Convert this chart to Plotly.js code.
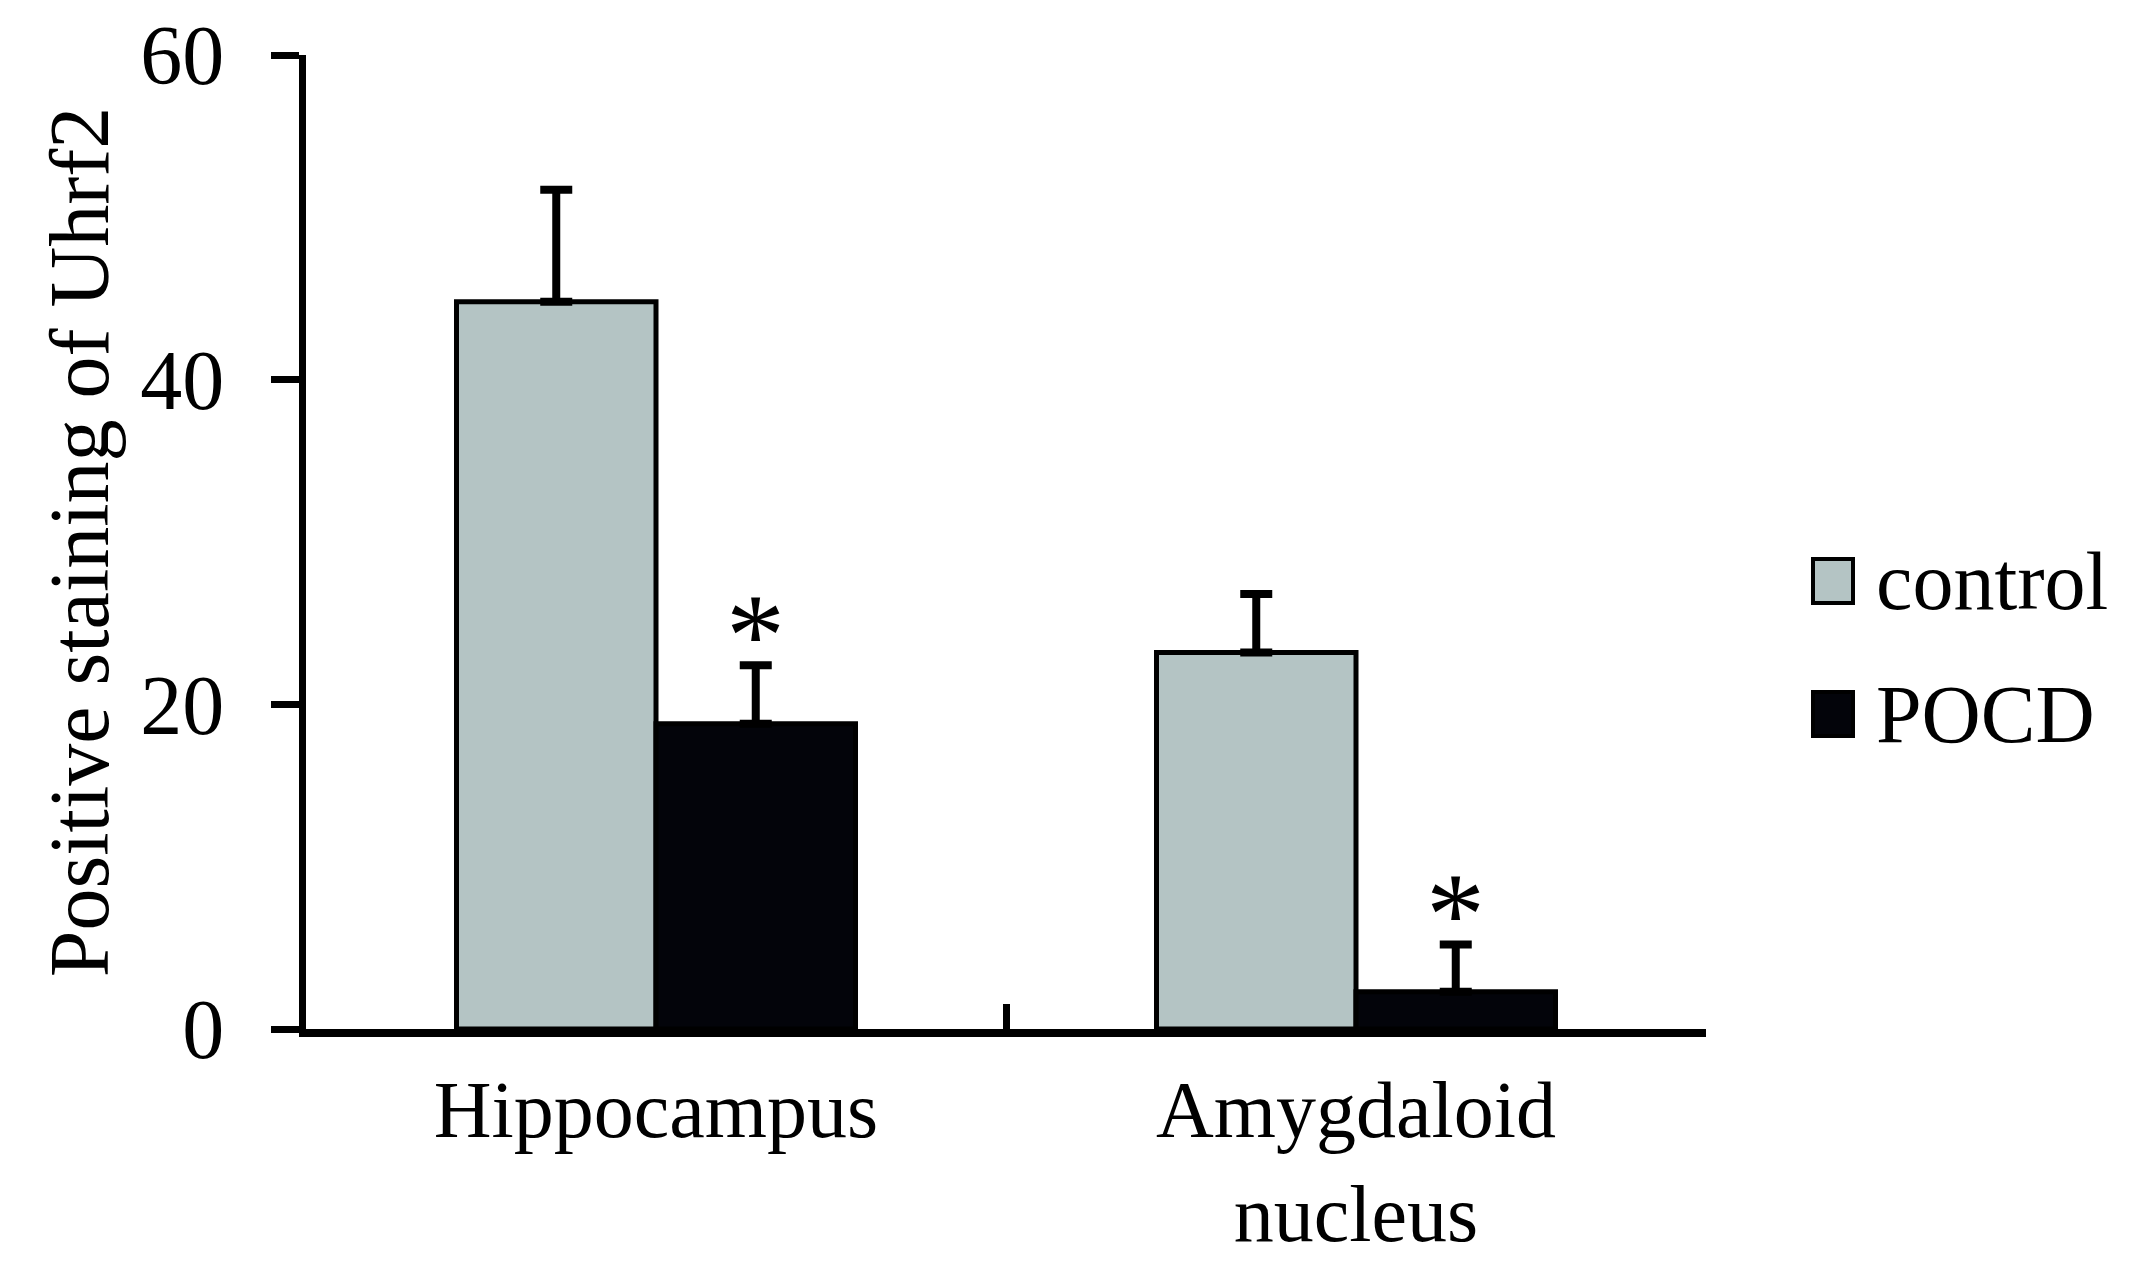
<!DOCTYPE html>
<html><head><meta charset="utf-8">
<script src="https://cdn.plot.ly/plotly-3.0.1.min.js"></script>
<style>html,body{margin:0;padding:0;background:#fff}</style>
</head><body><div id="chart" style="width:2140px;height:1270px"></div>
<script>
// ---- data ----
const categories = ['Hippocampus', 'Amygdaloid<br>nucleus'];
const seriesNames = ['control', 'POCD'];
const controlValues = [44.8, 23.2];
const controlErrors = [6.9, 3.6];
const pocdValues = [18.8, 2.3];
const pocdErrors = [3.6, 2.9];
const pocdSignificant = [true, true];
const yTickValues = [0, 20, 40, 60];
const yTitle = 'Positive staining of Uhrf2';

// ---- style ----
const W = 2140, H = 1270;
const M = {l: 306, r: 434, t: 55, b: 241, pad: 0};
const FONT = '"Liberation Serif", "Times New Roman", Times, serif';
const colors = ['#b4c4c4', '#03040a'];
const bargap = 0.43;

const zeros = a => a.map(() => 0);
const traces = [
  {name: seriesNames[0], x: categories, y: controlValues},
  {name: seriesNames[1], x: categories, y: pocdValues}
].map((t, i) => Object.assign(t, {
  type: 'bar',
  marker: {color: colors[i], line: {color: '#000', width: 5}},
  error_y: {type: 'data', symmetric: false,
            array: i === 0 ? controlErrors : pocdErrors,
            arrayminus: zeros(i === 0 ? controlErrors : pocdErrors),
            color: '#000', thickness: 8, width: 16},
  hoverinfo: 'y'
}));

const plotW = W - M.l - M.r, plotH = H - M.t - M.b;
const px = v => (v - M.l) / plotW;
const py = v => (H - M.b - v) / plotH;

const annotations = [];
pocdSignificant.forEach((s, i) => {
  if (!s) return;
  annotations.push({
    x: i + (1 - bargap) / 4, y: pocdValues[i] + pocdErrors[i], xref: 'x', yref: 'y',
    text: '*', showarrow: false, xanchor: 'center', yanchor: 'middle', yshift: 30,
    font: {family: FONT, size: 118, color: '#000'}
  });
});

// legend (drawn as swatches + labels)
const legendRows = [581, 714];
const shapes = [];
seriesNames.forEach((n, i) => {
  shapes.push({type: 'rect', xref: 'paper', yref: 'paper',
    x0: px(1813), x1: px(1853), y0: py(legendRows[i] - 22), y1: py(legendRows[i] + 22),
    fillcolor: colors[i], line: {color: '#000', width: 4}});
  annotations.push({xref: 'paper', yref: 'paper', x: px(1874), y: py(legendRows[i]),
    xanchor: 'left', yanchor: 'middle', text: n, showarrow: false,
    font: {family: FONT, size: 82, color: '#000'}});
});

const layout = {
  width: W, height: H, margin: M,
  paper_bgcolor: '#fff', plot_bgcolor: '#fff',
  font: {family: FONT, color: '#000', size: 84},
  barmode: 'group', bargap: bargap, bargroupgap: 0,
  showlegend: false,
  xaxis: {type: 'category', range: [-0.5, 1.5], showline: true, linecolor: '#000', linewidth: 8,
    ticks: 'inside', tickson: 'boundaries', ticklen: 25, tickwidth: 7, tickcolor: '#000',
    showgrid: false, zeroline: false, tickfont: {family: FONT, size: 80, color: '#000'},
    ticklabelstandoff: 4, fixedrange: true},
  yaxis: {range: [0, 60], tickmode: 'array', tickvals: yTickValues, showline: true,
    linecolor: '#000', linewidth: 7, ticks: 'outside', ticklen: 28, tickwidth: 7, tickcolor: '#000',
    showgrid: false, zeroline: false, tickfont: {family: FONT, size: 84, color: '#000'},
    ticklabelstandoff: 30, fixedrange: true,
    title: {text: yTitle, font: {family: FONT, size: 84, color: '#000'}, standoff: 6}},
  annotations: annotations,
  shapes: shapes
};

Plotly.newPlot('chart', traces, layout, {displayModeBar: false, staticPlot: true});
</script>
</body></html>
